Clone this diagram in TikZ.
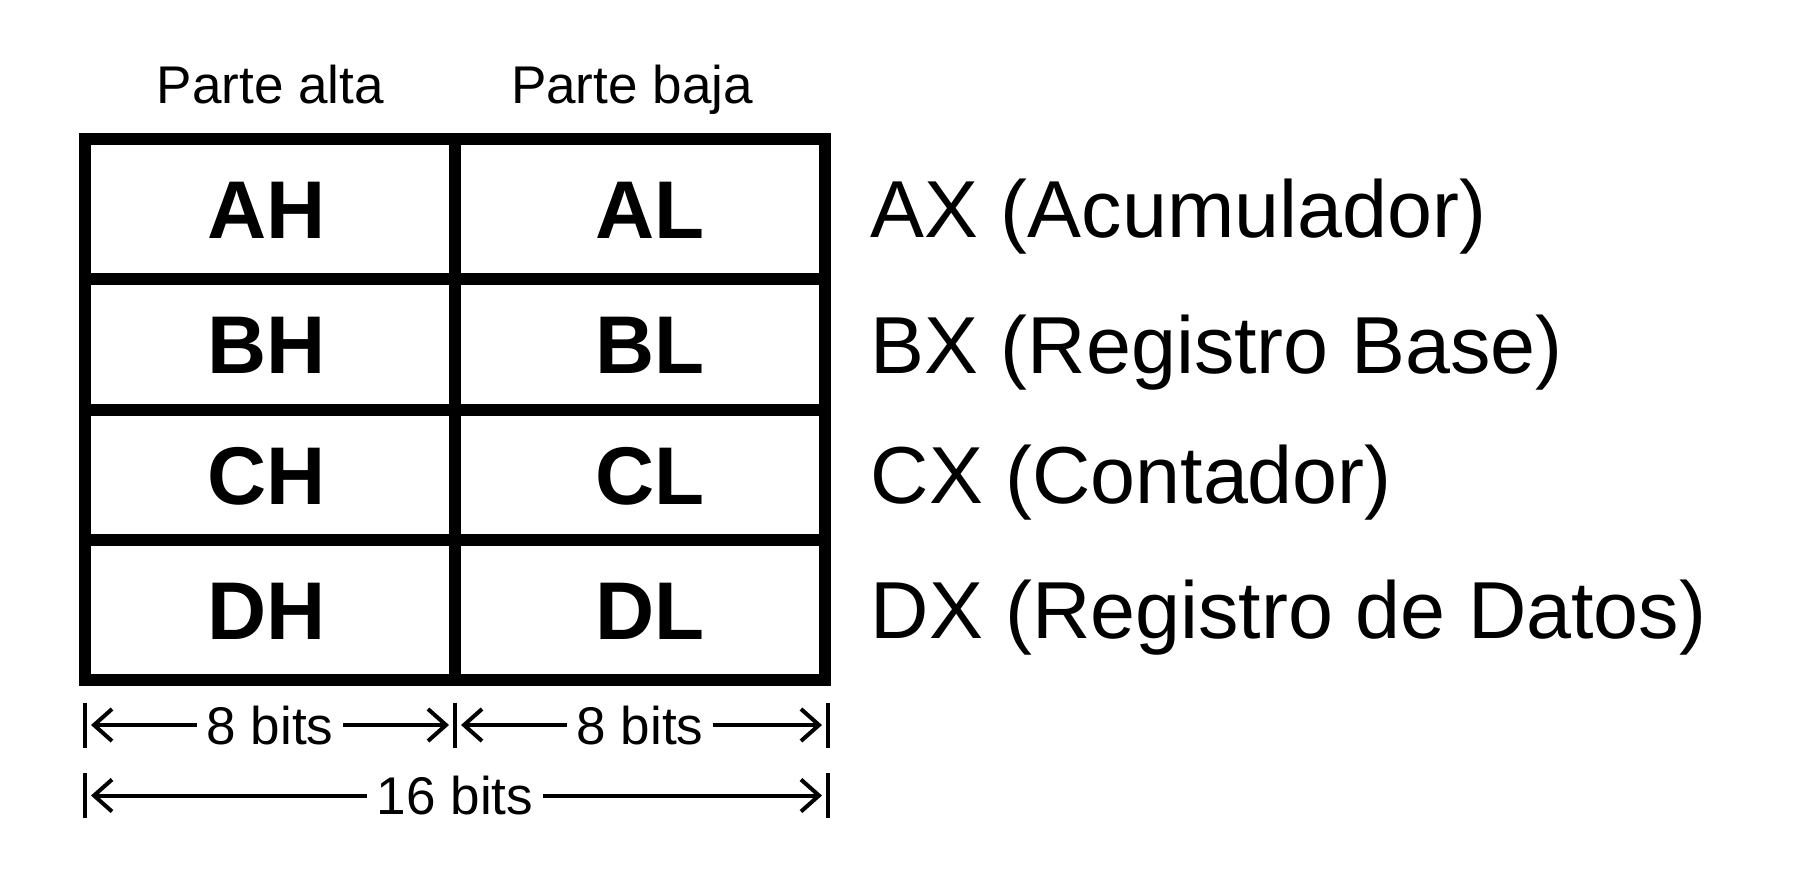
\documentclass[tikz,border=0pt]{standalone}
\usepackage{fontspec}
\setmainfont{Liberation Sans}
\usetikzlibrary{positioning,arrows.meta}

\begin{document}
\begin{tikzpicture}[auto,
    register/.style ={draw, line width=1.2mm, inner sep=0pt, minimum width=3.7cm,
       font=\fontsize{23.3pt}{28pt}\bfseries, text height=5.9mm, text depth=0pt},
    highbyte/.style ={register, execute at end node={\hspace*{0.8mm}}},
    lowbyte/.style ={register, execute at begin node={\hspace*{2mm}}},
    regname/.style ={inner sep=0pt, font=\fontsize{23pt}{28pt}\selectfont,
       text height=5.8mm, text depth=0pt},
    small/.style ={inner sep=0pt, font=\fontsize{15.1pt}{18pt}\selectfont,
       text height=3.8mm, text depth=0pt},
    tick/.style ={line width=0.4mm},
    dim/.style ={line width=0.4mm, -{Straight Barb[length=1.8mm,width=3.2mm]}, shorten >=0.6mm}]
   \useasboundingbox (0,0) rectangle (17.96,-8.85);
   \node[highbyte, minimum height=1.405cm] (AH) at (2.7025,-2.0875) {AH};
   \node[lowbyte, minimum height=1.405cm] (AL) at (6.40,-2.0875) {AL};
   \node[highbyte, minimum height=1.305cm] (BH) at (2.7025,-3.4425) {BH};
   \node[lowbyte, minimum height=1.305cm] (BL) at (6.40,-3.4425) {BL};
   \node[highbyte, minimum height=1.30cm] (CH) at (2.7025,-4.745) {CH};
   \node[lowbyte, minimum height=1.30cm] (CL) at (6.40,-4.745) {CL};
   \node[highbyte, minimum height=1.40cm] (DH) at (2.7025,-6.095) {DH};
   \node[lowbyte, minimum height=1.40cm] (DL) at (6.40,-6.095) {DL};
   \node[small, above=2.8mm of AH] (alta) {Parte alta};
   \node[small, above=2.8mm of AL, xshift=-0.8mm] (baja) {Parte baja};
   \node[regname, right=3.9mm of AL] (AX) {AX (Acumulador)};
   \node[regname, right=3.9mm of BL] (BX) {BX (Registro Base)};
   \node[regname, right=3.9mm of CL] (CX) {CX (Contador)};
   \node[regname, right=3.9mm of DL] (DX) {DX (Registro de Datos)};
   \coordinate (l1) at (0.85,-7.25);
   \coordinate (m1) at (4.55,-7.25);
   \coordinate (r1) at (8.28,-7.25);
   \coordinate (l2) at (0.85,-7.955);
   \coordinate (r2) at (8.28,-7.955);
   \foreach \p in {l1,m1,r1,l2,r2}
      \draw[tick] ([yshift=2.25mm]\p) -- ([yshift=-2.25mm]\p);
   \node[small, inner xsep=0.9mm] (hi) at (2.70,-7.25) {8 bits};
   \node[small, inner xsep=0.9mm] (lo) at (6.40,-7.25) {8 bits};
   \node[small, inner xsep=0.9mm] (all) at (4.55,-7.955) {16 bits};
   \draw[dim] (hi.west |- l1) to (l1);
   \draw[dim] (hi.east |- m1) to (m1);
   \draw[dim] (lo.west |- m1) to (m1);
   \draw[dim] (lo.east |- r1) to (r1);
   \draw[dim] (all.west |- l2) to (l2);
   \draw[dim] (all.east |- r2) to (r2);
\end{tikzpicture}
\end{document}
